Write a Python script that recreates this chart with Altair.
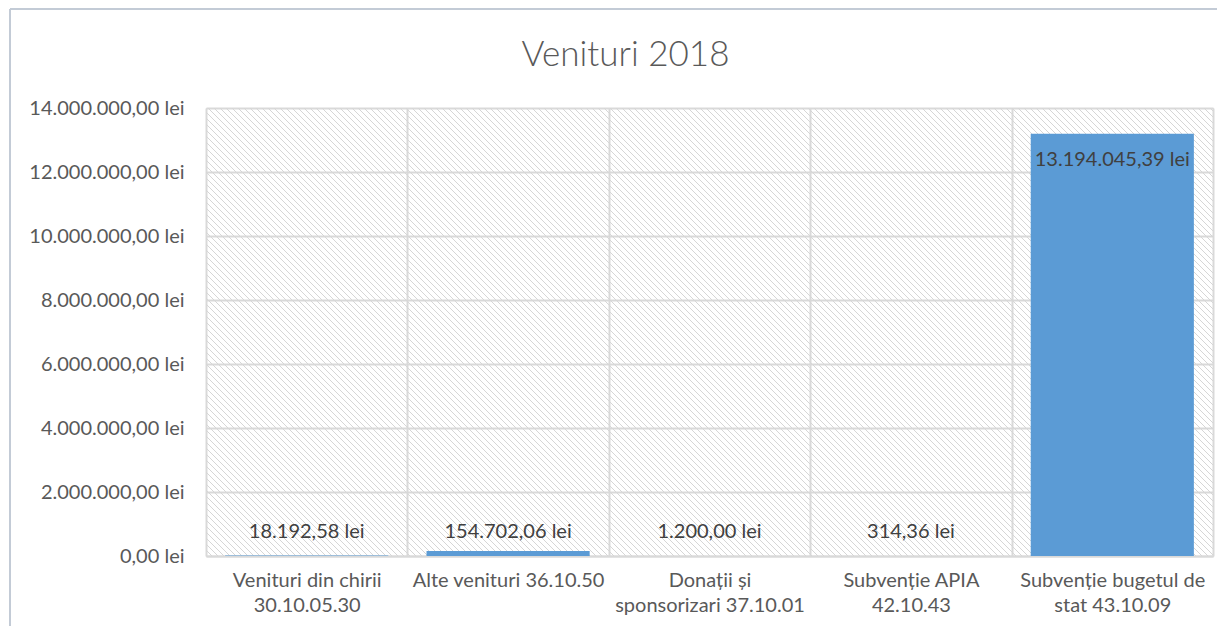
import altair as alt
import pandas as pd

categories = [
    "Venituri din chirii|30.10.05.30",
    "Alte venituri 36.10.50",
    "Donații și|sponsorizari 37.10.01",
    "Subvenție APIA|42.10.43",
    "Subvenție bugetul de|stat 43.10.09",
]
values = [18192.58, 154702.06, 1200.00, 314.36, 13194045.39]
y_ticks = [0, 2000000, 4000000, 6000000, 8000000, 10000000, 12000000, 14000000]

W, H = 1007, 448
FONT = "Lato"
GRID = "#d9d9d9"

df = pd.DataFrame({"cat": categories, "value": values})

lei_expr = ("replace(replace(replace(format(datum.value, ',.2f'), /,/g, '_'), /[.]/g, ','), /_/g, '.') + ' lei'")

xenc = alt.X(
    "cat:N",
    sort=categories,
    scale=alt.Scale(paddingInner=0, paddingOuter=0),
    axis=alt.Axis(
        title=None, labelAngle=0, ticks=False, grid=True, tickBand="extent",
        gridColor=GRID, gridWidth=2, domainColor=GRID, domainWidth=2,
        labelExpr="split(datum.label, '|')", labelFont=FONT, labelFontSize=20,
        labelColor="#595959", labelPadding=14, labelLineHeight=25, labelLimit=0,
    ),
)
yenc = alt.Y(
    "value:Q",
    scale=alt.Scale(domain=[0, 14000000], nice=False),
    axis=alt.Axis(
        title=None, values=y_ticks, ticks=False, domain=False, grid=True,
        gridColor=GRID, gridWidth=2, labelExpr=lei_expr, labelFont=FONT,
        labelFontSize=20, labelColor="#595959", labelPadding=22, labelLimit=0,
    ),
)

bars = alt.Chart(df).mark_bar(color="#5B9BD5", width=alt.RelativeBandSize(0.81)).encode(x=xenc, y=yenc)

small = alt.Chart(df).transform_filter("datum.value < 1000000").transform_calculate(
    label=lei_expr
).mark_text(font=FONT, fontSize=20, color="#404040", baseline="middle", dy=-24).encode(
    x=alt.X("cat:N", sort=categories), y=alt.datum(0), text="label:N"
)
big = alt.Chart(df).transform_filter("datum.value >= 1000000").transform_calculate(
    label=lei_expr
).mark_text(font=FONT, fontSize=20, color="#404040", baseline="middle", dy=26).encode(
    x=alt.X("cat:N", sort=categories), y="value:Q", text="label:N"
)

base = alt.layer(bars, small, big)

hatch = alt.Chart(alt.sequence(start=-H, stop=W + 6, step=6, as_="k")).transform_calculate(
    k2=f"datum.k + {H}"
).mark_rule(color="#d6d6d6", strokeWidth=1, clip=True).encode(
    x=alt.X("k:Q", scale=alt.Scale(domain=[0, W], nice=False, zero=False), axis=None),
    x2="k2:Q",
    y=alt.value(0),
    y2=alt.value(H),
)

border_data = alt.Data(values=[{}])
border_left = alt.Chart(border_data).mark_rule(color="#c3cbd6", strokeWidth=2).encode(
    x=alt.value(-196), y=alt.value(-99), y2=alt.value(528)
)
border_top = alt.Chart(border_data).mark_rule(color="#c3cbd6", strokeWidth=2).encode(
    x=alt.value(-196), x2=alt.value(1019), y=alt.value(-99)
)

chart = alt.layer(hatch, base, border_left, border_top).resolve_scale(
    x="independent", y="independent"
).properties(
    width=W,
    height=H,
    autosize=alt.AutoSizeParams(type="none"),
    padding={"left": 198, "top": 100, "right": 4, "bottom": 70},
    title=alt.TitleParams(
        "Venituri 2018", font=FONT, fontSize=35, fontWeight=300, color="#595959",
        anchor="middle", frame="group", offset=-93, baseline="alphabetic", dx=-84,
    ),
).configure_view(stroke=GRID, strokeWidth=2).configure(background="white")

chart.save("out.html", embed_options={"renderer": "svg", "actions": False})
